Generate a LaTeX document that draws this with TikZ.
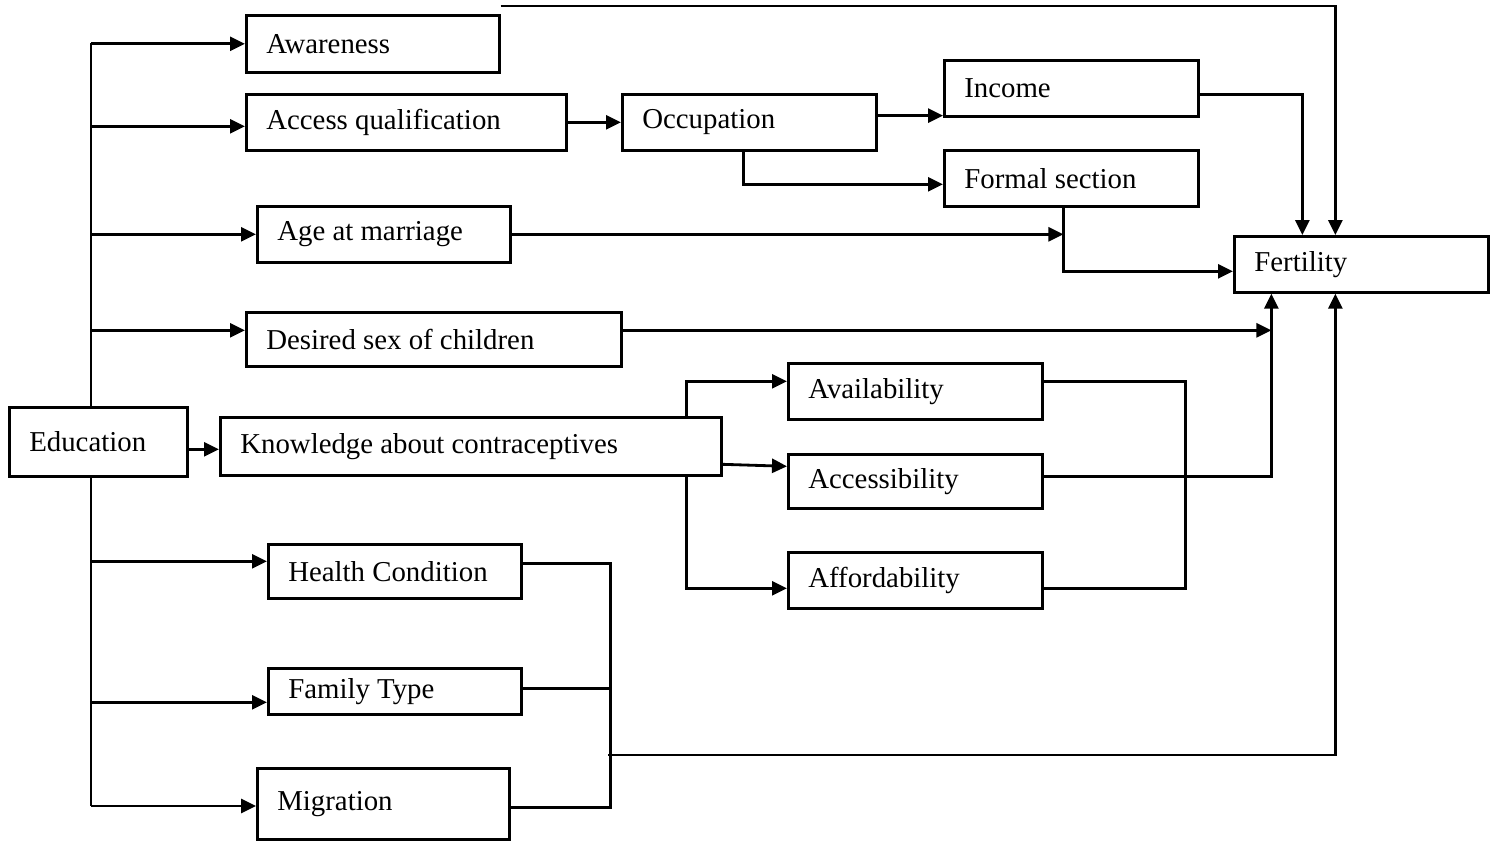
\documentclass[tikz,border=0pt]{standalone}
\usepackage{fontspec}
\setmainfont{Liberation Serif}
\usetikzlibrary{arrows.meta}
\tikzset{
	box/.style={draw, line width=0.75pt, anchor=north west, inner xsep=0.2cm, inner ysep=0pt, align=flush left},
	wire/.style={line width=0.8pt},
	arr/.style={wire, -{Triangle[length=0.15cm, width=0.14cm]}}
}

\begin{document}
\begin{tikzpicture}[font=\fontsize{8.2}{9.5}\selectfont]
		%%%%% START %%%%%
		\useasboundingbox (0, 0) rectangle (14.96, -8.40);
		
		\node[box, text width=1.38cm, minimum height=0.69cm] (edu) at (0.08, -4.06) {Education};
		
		\node[box, text width=2.13cm, minimum height=0.57cm] (aware) at (2.45, -0.14) {Awareness};
		\node[box, text width=2.80cm, minimum height=0.56cm] (accq) at (2.45, -0.93) {Access qualification};
		\node[box, text width=2.13cm, minimum height=0.56cm] (agem) at (2.56, -2.05) {Age at marriage};
		\node[box, text width=3.35cm, minimum height=0.54cm] (desex) at (2.45, -3.11) {Desired sex of children};
		\node[box, text width=4.61cm, minimum height=0.58cm] (know) at (2.19, -4.16) {Knowledge about contraceptives};
		\node[box, text width=2.13cm, minimum height=0.54cm] (health) at (2.67, -5.43) {Health Condition};
		\node[box, text width=2.13cm, minimum height=0.46cm] (famtype) at (2.67, -6.67) {Family Type};
		\node[box, text width=2.12cm, minimum height=0.71cm] (migr) at (2.56, -7.67) {Migration};
		
		\node[box, text width=2.14cm, minimum height=0.56cm] (occup) at (6.21, -0.93) {Occupation};
		\node[box, text width=2.14cm, minimum height=0.56cm] (income) at (9.43, -0.59) {Income};
		\node[box, text width=2.14cm, minimum height=0.56cm] (formal) at (9.43, -1.49) {Formal section};
		\node[box, text width=2.14cm, minimum height=0.56cm] (fert) at (12.33, -2.35) {Fertility};
		
		\node[box, text width=2.14cm, minimum height=0.56cm] (avail) at (7.87, -3.62) {Availability};
		\node[box, text width=2.14cm, minimum height=0.54cm] (access) at (7.87, -4.53) {Accessibility};
		\node[box, text width=2.14cm, minimum height=0.56cm] (afford) at (7.87, -5.51) {Affordability};
		
		% end points on the box sides
		\coordinate (accqin) at ([yshift=-0.04cm]accq.west);
		\coordinate (desexin) at ([yshift=0.09cm]desex.west);
		\coordinate (knowin) at ([yshift=-0.03cm]know.west);
		\coordinate (healthin) at ([yshift=0.1cm]health.west);
		\coordinate (famin) at ([yshift=-0.11cm]famtype.west);
		\coordinate (incomein) at ([yshift=0.02cm]income.south west);
		\coordinate (desexout) at ([yshift=0.09cm]desex.east);
		\coordinate (famout) at ([yshift=0.03cm]famtype.east);
		
		% trunk out of Education
		\coordinate (trunk) at (0.91, -0.43);
		\coordinate (trunkend) at (0.91, -8.06);
		\draw[wire] (trunk) -- (trunk |- edu.north);
		\draw[wire] (trunk |- edu.south) -- (trunkend);
		
		\draw[arr] (trunk |- aware.west) -- (aware.west);
		\draw[arr] (trunk |- accqin) -- (accqin);
		\draw[arr] (trunk |- agem.west) -- (agem.west);
		\draw[arr] (trunk |- desexin) -- (desexin);
		\draw[arr] (edu.east |- knowin) -- (knowin);
		\draw[arr] (trunk |- healthin) -- (healthin);
		\draw[arr] (trunk |- famin) -- (famin);
		\draw[arr] (trunkend) -- (trunkend -| migr.west);
		
		% occupation branch
		\draw[arr] (accq.east) -- (occup.west);
		\draw[arr] (occup.east |- incomein) -- (incomein);
		\draw[arr] ([xshift=-0.06cm]occup.south) |- ([yshift=-0.06cm]formal.west);
		
		% into Fertility from above
		\draw[arr] ([yshift=0.08cm]aware.north east) -| ([xshift=-0.26cm]fert.north);
		\draw[arr] ([yshift=-0.06cm]income.east) -| ([xshift=-0.59cm]fert.north);
		\coordinate (fs) at ([xshift=-0.08cm]formal.south);
		\draw[arr] (fs) |- ([yshift=-0.07cm]fert.west);
		\draw[arr] (agem.east) -- (agem.east -| fs);
		
		% into Fertility from below
		\coordinate (fa) at ([xshift=-0.90cm]fert.south);
		\draw[arr] (desexout) -- (desexout -| fa);
		\draw[arr] ([yshift=0.05cm]access.east) -| (fa);
		\draw[wire] ([yshift=0.1cm]avail.east) -- ++(1.42, 0) |- ([yshift=-0.08cm]afford.east);
		
		% contraceptives branch
		\draw[arr] ([xshift=-0.36cm]know.north east) |- ([yshift=0.1cm]avail.west);
		\draw[arr] ([yshift=-0.18cm]know.east) -- ([yshift=0.15cm]access.west);
		\draw[arr] ([xshift=-0.36cm]know.south east) |- ([yshift=-0.08cm]afford.west);
		
		% health, family type, migration
		\coordinate (hm) at ([xshift=0.88cm, yshift=0.08cm]health.east);
		\coordinate (hmlow) at (6.08, -7.55);
		\draw[wire] ([yshift=0.08cm]health.east) -- (hm) |- ([yshift=-0.04cm]migr.east);
		\draw[wire] (famout) -- (famout -| hm);
		\draw[arr] (hmlow) -| ([xshift=-0.26cm]fert.south);
		
		%%%%% END %%%%%
	\end{tikzpicture}
\end{document}
